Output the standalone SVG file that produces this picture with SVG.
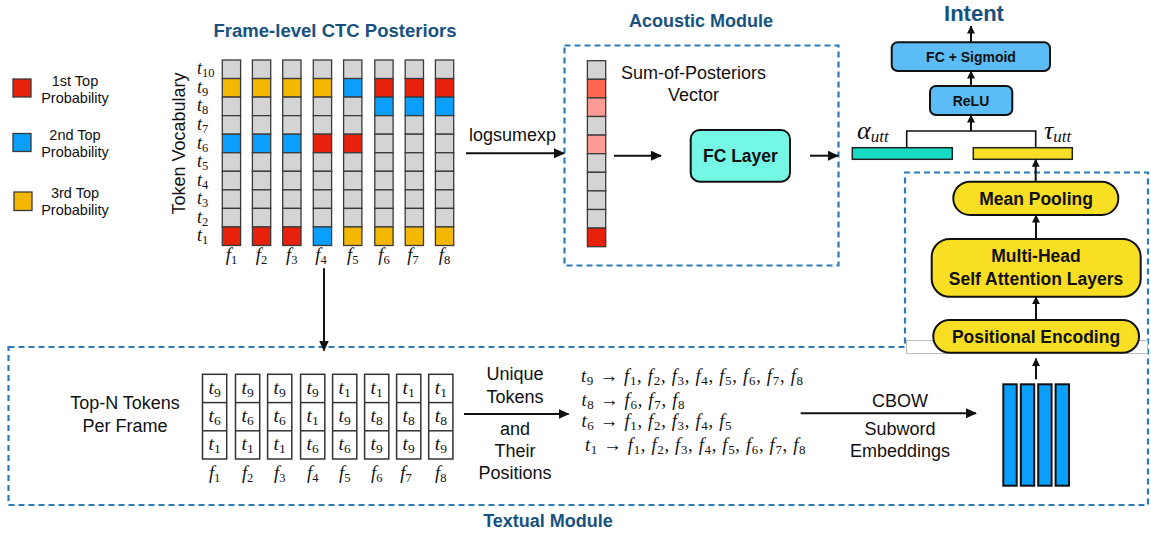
<svg xmlns="http://www.w3.org/2000/svg" width="1151" height="538" viewBox="0 0 1151 538">
<defs>
<style>
.sans{font-family:"Liberation Sans",Arial,sans-serif;fill:#111}
.t18{font-size:18px}
.leg{font-size:14.5px;text-anchor:middle}
.ttl{font-family:"Liberation Sans",Arial,sans-serif;font-weight:bold;font-size:18px;fill:#17527f;text-anchor:middle}
.bold{font-family:"Liberation Sans",Arial,sans-serif;font-weight:bold;fill:#111;text-anchor:middle}
.mid{text-anchor:middle}
.m{font-family:"Liberation Serif","Times New Roman",serif;font-style:italic;fill:#111}
.sub{font-style:normal}
.g{fill:#d4d4d4;stroke:#3a3a3a;stroke-width:1.3}
.R{fill:#e8210c;stroke:#3a3a3a;stroke-width:1.3}
.B{fill:#0a9ffb;stroke:#3a3a3a;stroke-width:1.3}
.Y{fill:#f4b800;stroke:#3a3a3a;stroke-width:1.3}
.S1{fill:#fe6650;stroke:#3a3a3a;stroke-width:1.3}
.S2{fill:#fd9c94;stroke:#3a3a3a;stroke-width:1.3}
.tok{fill:#fff;stroke:#333;stroke-width:1.5}
.dash{fill:none;stroke:#2b7bb9;stroke-width:2.2;stroke-dasharray:6 4}
.ln{fill:none;stroke:#111;stroke-width:2}
.lnt{fill:none;stroke:#111;stroke-width:1.6}
.node{stroke:#111;stroke-width:2}
</style>
<marker id="ah" markerUnits="userSpaceOnUse" markerWidth="11" markerHeight="10" refX="10" refY="5" orient="auto">
<path d="M0,0 L11,5 L0,10 z" fill="#111"/>
</marker>
<marker id="ahs" markerUnits="userSpaceOnUse" markerWidth="8" markerHeight="8" refX="7.5" refY="4" orient="auto">
<path d="M0,0 L8,4 L0,8 z" fill="#111"/>
</marker>
</defs>
<rect width="1151" height="538" fill="#fff"/>

<!-- Legend -->
<g id="legend">
<rect x="13" y="79" width="18" height="18" class="R" stroke-width="1.5"/>
<rect x="13" y="133.5" width="18" height="18" class="B"/>
<rect x="14" y="192" width="18" height="18.5" class="Y"/>
<text class="sans leg" x="75" y="86">1st Top</text>
<text class="sans leg" x="75" y="103">Probability</text>
<text class="sans leg" x="75" y="140">2nd Top</text>
<text class="sans leg" x="75" y="157">Probability</text>
<text class="sans leg" x="75" y="198">3rd Top</text>
<text class="sans leg" x="75" y="215">Probability</text>
</g>

<!-- CTC posteriors grid -->
<g id="ctc-grid">
<text class="ttl" x="335" y="36.5" textLength="243" lengthAdjust="spacingAndGlyphs">Frame-level CTC Posteriors</text>
<text class="sans t18 mid" transform="translate(185,143.5) rotate(-90)">Token Vocabulary</text>
<g class="m" font-size="18">
<text x="197" y="74.3">t<tspan class="sub" font-size="12.5" dy="3">10</tspan></text>
<text x="197" y="92.8">t<tspan class="sub" font-size="12.5" dy="3">9</tspan></text>
<text x="197" y="111.4">t<tspan class="sub" font-size="12.5" dy="3">8</tspan></text>
<text x="197" y="129.9">t<tspan class="sub" font-size="12.5" dy="3">7</tspan></text>
<text x="197" y="148.5">t<tspan class="sub" font-size="12.5" dy="3">6</tspan></text>
<text x="197" y="167">t<tspan class="sub" font-size="12.5" dy="3">5</tspan></text>
<text x="197" y="185.6">t<tspan class="sub" font-size="12.5" dy="3">4</tspan></text>
<text x="197" y="204.1">t<tspan class="sub" font-size="12.5" dy="3">3</tspan></text>
<text x="197" y="222.7">t<tspan class="sub" font-size="12.5" dy="3">2</tspan></text>
<text x="197" y="241.2">t<tspan class="sub" font-size="12.5" dy="3">1</tspan></text>
</g>
<g id="col-f1">
<rect x="222.3" y="60" width="18.3" height="18.55" class="g"/><rect x="222.3" y="78.55" width="18.3" height="18.55" class="Y"/><rect x="222.3" y="97.1" width="18.3" height="18.55" class="g"/><rect x="222.3" y="115.65" width="18.3" height="18.55" class="g"/><rect x="222.3" y="134.2" width="18.3" height="18.55" class="B"/><rect x="222.3" y="152.75" width="18.3" height="18.55" class="g"/><rect x="222.3" y="171.3" width="18.3" height="18.55" class="g"/><rect x="222.3" y="189.85" width="18.3" height="18.55" class="g"/><rect x="222.3" y="208.4" width="18.3" height="18.55" class="g"/><rect x="222.3" y="226.95" width="18.3" height="18.55" class="R"/>
</g>
<g id="col-f2">
<rect x="252.4" y="60" width="18.3" height="18.55" class="g"/><rect x="252.4" y="78.55" width="18.3" height="18.55" class="Y"/><rect x="252.4" y="97.1" width="18.3" height="18.55" class="g"/><rect x="252.4" y="115.65" width="18.3" height="18.55" class="g"/><rect x="252.4" y="134.2" width="18.3" height="18.55" class="B"/><rect x="252.4" y="152.75" width="18.3" height="18.55" class="g"/><rect x="252.4" y="171.3" width="18.3" height="18.55" class="g"/><rect x="252.4" y="189.85" width="18.3" height="18.55" class="g"/><rect x="252.4" y="208.4" width="18.3" height="18.55" class="g"/><rect x="252.4" y="226.95" width="18.3" height="18.55" class="R"/>
</g>
<g id="col-f3">
<rect x="282.7" y="60" width="18.3" height="18.55" class="g"/><rect x="282.7" y="78.55" width="18.3" height="18.55" class="Y"/><rect x="282.7" y="97.1" width="18.3" height="18.55" class="g"/><rect x="282.7" y="115.65" width="18.3" height="18.55" class="g"/><rect x="282.7" y="134.2" width="18.3" height="18.55" class="B"/><rect x="282.7" y="152.75" width="18.3" height="18.55" class="g"/><rect x="282.7" y="171.3" width="18.3" height="18.55" class="g"/><rect x="282.7" y="189.85" width="18.3" height="18.55" class="g"/><rect x="282.7" y="208.4" width="18.3" height="18.55" class="g"/><rect x="282.7" y="226.95" width="18.3" height="18.55" class="R"/>
</g>
<g id="col-f4">
<rect x="313.3" y="60" width="18.3" height="18.55" class="g"/><rect x="313.3" y="78.55" width="18.3" height="18.55" class="Y"/><rect x="313.3" y="97.1" width="18.3" height="18.55" class="g"/><rect x="313.3" y="115.65" width="18.3" height="18.55" class="g"/><rect x="313.3" y="134.2" width="18.3" height="18.55" class="R"/><rect x="313.3" y="152.75" width="18.3" height="18.55" class="g"/><rect x="313.3" y="171.3" width="18.3" height="18.55" class="g"/><rect x="313.3" y="189.85" width="18.3" height="18.55" class="g"/><rect x="313.3" y="208.4" width="18.3" height="18.55" class="g"/><rect x="313.3" y="226.95" width="18.3" height="18.55" class="B"/>
</g>
<g id="col-f5">
<rect x="343.6" y="60" width="18.3" height="18.55" class="g"/><rect x="343.6" y="78.55" width="18.3" height="18.55" class="B"/><rect x="343.6" y="97.1" width="18.3" height="18.55" class="g"/><rect x="343.6" y="115.65" width="18.3" height="18.55" class="g"/><rect x="343.6" y="134.2" width="18.3" height="18.55" class="R"/><rect x="343.6" y="152.75" width="18.3" height="18.55" class="g"/><rect x="343.6" y="171.3" width="18.3" height="18.55" class="g"/><rect x="343.6" y="189.85" width="18.3" height="18.55" class="g"/><rect x="343.6" y="208.4" width="18.3" height="18.55" class="g"/><rect x="343.6" y="226.95" width="18.3" height="18.55" class="Y"/>
</g>
<g id="col-f6">
<rect x="374.8" y="60" width="18.3" height="18.55" class="g"/><rect x="374.8" y="78.55" width="18.3" height="18.55" class="R"/><rect x="374.8" y="97.1" width="18.3" height="18.55" class="B"/><rect x="374.8" y="115.65" width="18.3" height="18.55" class="g"/><rect x="374.8" y="134.2" width="18.3" height="18.55" class="g"/><rect x="374.8" y="152.75" width="18.3" height="18.55" class="g"/><rect x="374.8" y="171.3" width="18.3" height="18.55" class="g"/><rect x="374.8" y="189.85" width="18.3" height="18.55" class="g"/><rect x="374.8" y="208.4" width="18.3" height="18.55" class="g"/><rect x="374.8" y="226.95" width="18.3" height="18.55" class="Y"/>
</g>
<g id="col-f7">
<rect x="405.2" y="60" width="18.3" height="18.55" class="g"/><rect x="405.2" y="78.55" width="18.3" height="18.55" class="R"/><rect x="405.2" y="97.1" width="18.3" height="18.55" class="B"/><rect x="405.2" y="115.65" width="18.3" height="18.55" class="g"/><rect x="405.2" y="134.2" width="18.3" height="18.55" class="g"/><rect x="405.2" y="152.75" width="18.3" height="18.55" class="g"/><rect x="405.2" y="171.3" width="18.3" height="18.55" class="g"/><rect x="405.2" y="189.85" width="18.3" height="18.55" class="g"/><rect x="405.2" y="208.4" width="18.3" height="18.55" class="g"/><rect x="405.2" y="226.95" width="18.3" height="18.55" class="Y"/>
</g>
<g id="col-f8">
<rect x="435.4" y="60" width="18.3" height="18.55" class="g"/><rect x="435.4" y="78.55" width="18.3" height="18.55" class="R"/><rect x="435.4" y="97.1" width="18.3" height="18.55" class="B"/><rect x="435.4" y="115.65" width="18.3" height="18.55" class="g"/><rect x="435.4" y="134.2" width="18.3" height="18.55" class="g"/><rect x="435.4" y="152.75" width="18.3" height="18.55" class="g"/><rect x="435.4" y="171.3" width="18.3" height="18.55" class="g"/><rect x="435.4" y="189.85" width="18.3" height="18.55" class="g"/><rect x="435.4" y="208.4" width="18.3" height="18.55" class="g"/><rect x="435.4" y="226.95" width="18.3" height="18.55" class="Y"/>
</g>
<g class="m" font-size="18.5" text-anchor="middle">
<text x="231.5" y="261">f<tspan class="sub" font-size="12.5" dy="3">1</tspan></text>
<text x="261.5" y="261">f<tspan class="sub" font-size="12.5" dy="3">2</tspan></text>
<text x="291.8" y="261">f<tspan class="sub" font-size="12.5" dy="3">3</tspan></text>
<text x="321" y="261">f<tspan class="sub" font-size="12.5" dy="3">4</tspan></text>
<text x="352.7" y="261">f<tspan class="sub" font-size="12.5" dy="3">5</tspan></text>
<text x="384" y="261">f<tspan class="sub" font-size="12.5" dy="3">6</tspan></text>
<text x="413" y="261">f<tspan class="sub" font-size="12.5" dy="3">7</tspan></text>
<text x="444.5" y="261">f<tspan class="sub" font-size="12.5" dy="3">8</tspan></text>
</g>
</g>

<!-- Acoustic module -->
<g id="acoustic-module">
<text class="ttl" x="701" y="26.5">Acoustic Module</text>
<rect x="564.5" y="45.5" width="274" height="220" class="dash"/>
</g>
<g id="sum-vector">
<rect x="587.4" y="60.7" width="18.3" height="18.6" class="g"/><rect x="587.4" y="79.3" width="18.3" height="18.6" class="S1"/><rect x="587.4" y="97.9" width="18.3" height="18.6" class="S2"/><rect x="587.4" y="116.5" width="18.3" height="18.6" class="g"/><rect x="587.4" y="135.1" width="18.3" height="18.6" class="S2"/><rect x="587.4" y="153.7" width="18.3" height="18.6" class="g"/><rect x="587.4" y="172.3" width="18.3" height="18.6" class="g"/><rect x="587.4" y="190.9" width="18.3" height="18.6" class="g"/><rect x="587.4" y="209.5" width="18.3" height="18.6" class="g"/><rect x="587.4" y="228.1" width="18.3" height="18.6" class="R"/>
<text class="sans t18 mid" x="693.5" y="78.5">Sum-of-Posteriors</text>
<text class="sans t18 mid" x="693.5" y="101">Vector</text>
</g>
<g id="fc-layer">
<rect x="690.7" y="130" width="99.3" height="51.7" rx="9" fill="#74f7e4" class="node"/>
<text class="bold" font-size="17.5" x="740.4" y="162">FC Layer</text>
</g>

<!-- Classifier -->
<g id="intent">
<text class="bold" font-size="22" x="974" y="20.5" style="fill:#17527f">Intent</text>
</g>
<g id="fc-sigmoid">
<rect x="891.7" y="42.3" width="158.3" height="28.7" rx="6" fill="#5cbcf6" class="node"/>
<text class="bold" font-size="14" x="971" y="62">FC + Sigmoid</text>
</g>
<g id="relu">
<rect x="930" y="86" width="82.3" height="29" rx="6" fill="#5cbcf6" class="node"/>
<text class="bold" font-size="14" x="971" y="105.5">ReLU</text>
</g>
<g id="alpha-utt">
<rect x="852.3" y="147.7" width="100" height="11.6" fill="#16dcc6" stroke="#222" stroke-width="1.5"/>
<text class="m" x="857" y="138.5" font-size="26">α<tspan font-size="17" dy="3">utt</tspan></text>
</g>
<g id="tau-utt">
<rect x="973.3" y="147.7" width="99" height="11.6" fill="#f7df27" stroke="#222" stroke-width="1.5"/>
<text class="m" x="1044" y="138.5" font-size="26">τ<tspan font-size="17" dy="3">utt</tspan></text>
</g>

<!-- Textual module -->
<g id="textual-module">
<path d="M8.5 347 H905 V172.5 H1148 V505 H8.5 Z" class="dash"/>
<rect x="906.5" y="340.5" width="241" height="13" fill="#fff" stroke="#bdbdbd" stroke-width="1"/>
<text class="ttl" x="548" y="526.5">Textual Module</text>
</g>
<g id="mean-pooling">
<rect x="953.3" y="181.7" width="165" height="33.3" rx="16.6" fill="#f9df23" class="node"/>
<text class="bold" font-size="17.5" x="1036" y="205">Mean Pooling</text>
</g>
<g id="self-attention">
<rect x="931.7" y="239" width="209" height="57.7" rx="18" fill="#f9df23" class="node"/>
<text class="bold" font-size="17.5" x="1036" y="262">Multi-Head</text>
<text class="bold" font-size="17.5" x="1036" y="284.5">Self Attention Layers</text>
</g>
<g id="positional-encoding">
<rect x="933.3" y="320" width="205.7" height="32.7" rx="16.3" fill="#f9df23" class="node"/>
<text class="bold" font-size="17.5" x="1036" y="343">Positional Encoding</text>
</g>
<g id="embeddings">
<rect x="1003.3" y="384.3" width="13.4" height="101.4" fill="#0a9ffb" class="node"/>
<rect x="1020.8" y="384.3" width="13.4" height="101.4" fill="#0a9ffb" class="node"/>
<rect x="1038.2" y="384.3" width="13.4" height="101.4" fill="#0a9ffb" class="node"/>
<rect x="1055.6" y="384.3" width="13.4" height="101.4" fill="#0a9ffb" class="node"/>
</g>
<g id="top-n-label">
<text class="sans t18 mid" x="125" y="409">Top-N Tokens</text>
<text class="sans t18 mid" x="125" y="432">Per Frame</text>
</g>
<g id="token-boxes">
<g class="tok">
<rect x="202.5" y="374.3" width="24.2" height="84.7"/><line x1="202.5" y1="402.6" x2="226.7" y2="402.6"/><line x1="202.5" y1="430.8" x2="226.7" y2="430.8"/>
<rect x="235.5" y="374.3" width="24.2" height="84.7"/><line x1="235.5" y1="402.6" x2="259.7" y2="402.6"/><line x1="235.5" y1="430.8" x2="259.7" y2="430.8"/>
<rect x="267.6" y="374.3" width="24.2" height="84.7"/><line x1="267.6" y1="402.6" x2="291.8" y2="402.6"/><line x1="267.6" y1="430.8" x2="291.8" y2="430.8"/>
<rect x="300.6" y="374.3" width="24.2" height="84.7"/><line x1="300.6" y1="402.6" x2="324.8" y2="402.6"/><line x1="300.6" y1="430.8" x2="324.8" y2="430.8"/>
<rect x="332.6" y="374.3" width="24.2" height="84.7"/><line x1="332.6" y1="402.6" x2="356.8" y2="402.6"/><line x1="332.6" y1="430.8" x2="356.8" y2="430.8"/>
<rect x="364.6" y="374.3" width="24.2" height="84.7"/><line x1="364.6" y1="402.6" x2="388.8" y2="402.6"/><line x1="364.6" y1="430.8" x2="388.8" y2="430.8"/>
<rect x="396.6" y="374.3" width="24.2" height="84.7"/><line x1="396.6" y1="402.6" x2="420.8" y2="402.6"/><line x1="396.6" y1="430.8" x2="420.8" y2="430.8"/>
<rect x="428.7" y="374.3" width="24.2" height="84.7"/><line x1="428.7" y1="402.6" x2="452.9" y2="402.6"/><line x1="428.7" y1="430.8" x2="452.9" y2="430.8"/>
</g>
<g class="m" font-size="19.5" text-anchor="middle">
<text x="214.6" y="393.5">t<tspan class="sub" font-size="13.5" dy="3">9</tspan></text><text x="214.6" y="421.8">t<tspan class="sub" font-size="13.5" dy="3">6</tspan></text><text x="214.6" y="450">t<tspan class="sub" font-size="13.5" dy="3">1</tspan></text>
<text x="247.6" y="393.5">t<tspan class="sub" font-size="13.5" dy="3">9</tspan></text><text x="247.6" y="421.8">t<tspan class="sub" font-size="13.5" dy="3">6</tspan></text><text x="247.6" y="450">t<tspan class="sub" font-size="13.5" dy="3">1</tspan></text>
<text x="279.7" y="393.5">t<tspan class="sub" font-size="13.5" dy="3">9</tspan></text><text x="279.7" y="421.8">t<tspan class="sub" font-size="13.5" dy="3">6</tspan></text><text x="279.7" y="450">t<tspan class="sub" font-size="13.5" dy="3">1</tspan></text>
<text x="312.7" y="393.5">t<tspan class="sub" font-size="13.5" dy="3">9</tspan></text><text x="312.7" y="421.8">t<tspan class="sub" font-size="13.5" dy="3">1</tspan></text><text x="312.7" y="450">t<tspan class="sub" font-size="13.5" dy="3">6</tspan></text>
<text x="344.7" y="393.5">t<tspan class="sub" font-size="13.5" dy="3">1</tspan></text><text x="344.7" y="421.8">t<tspan class="sub" font-size="13.5" dy="3">9</tspan></text><text x="344.7" y="450">t<tspan class="sub" font-size="13.5" dy="3">6</tspan></text>
<text x="376.7" y="393.5">t<tspan class="sub" font-size="13.5" dy="3">1</tspan></text><text x="376.7" y="421.8">t<tspan class="sub" font-size="13.5" dy="3">8</tspan></text><text x="376.7" y="450">t<tspan class="sub" font-size="13.5" dy="3">9</tspan></text>
<text x="408.7" y="393.5">t<tspan class="sub" font-size="13.5" dy="3">1</tspan></text><text x="408.7" y="421.8">t<tspan class="sub" font-size="13.5" dy="3">8</tspan></text><text x="408.7" y="450">t<tspan class="sub" font-size="13.5" dy="3">9</tspan></text>
<text x="440.8" y="393.5">t<tspan class="sub" font-size="13.5" dy="3">1</tspan></text><text x="440.8" y="421.8">t<tspan class="sub" font-size="13.5" dy="3">8</tspan></text><text x="440.8" y="450">t<tspan class="sub" font-size="13.5" dy="3">9</tspan></text>
</g>
<g class="m" font-size="18.5" text-anchor="middle">
<text x="214.6" y="478.5">f<tspan class="sub" font-size="12.5" dy="3">1</tspan></text>
<text x="247.6" y="478.5">f<tspan class="sub" font-size="12.5" dy="3">2</tspan></text>
<text x="279.7" y="478.5">f<tspan class="sub" font-size="12.5" dy="3">3</tspan></text>
<text x="312.7" y="478.5">f<tspan class="sub" font-size="12.5" dy="3">4</tspan></text>
<text x="344.7" y="478.5">f<tspan class="sub" font-size="12.5" dy="3">5</tspan></text>
<text x="376.7" y="478.5">f<tspan class="sub" font-size="12.5" dy="3">6</tspan></text>
<text x="406" y="478.5">f<tspan class="sub" font-size="12.5" dy="3">7</tspan></text>
<text x="440.8" y="478.5">f<tspan class="sub" font-size="12.5" dy="3">8</tspan></text>
</g>
</g>
<g id="unique-label">
<text class="sans t18 mid" x="515" y="380">Unique</text>
<text class="sans t18 mid" x="515" y="402.5">Tokens</text>
<text class="sans t18 mid" x="515" y="435">and</text>
<text class="sans t18 mid" x="515" y="457.3">Their</text>
<text class="sans t18 mid" x="515" y="479.3">Positions</text>
</g>
<g id="token-positions" class="m" font-size="18.5">
<text x="581" y="382" textLength="222" lengthAdjust="spacing">t<tspan class="sub" font-size="13" dy="3">9</tspan><tspan class="sub" dy="-3"> → </tspan>f<tspan class="sub" font-size="13" dy="3">1</tspan><tspan class="sub" dy="-3">, </tspan>f<tspan class="sub" font-size="13" dy="3">2</tspan><tspan class="sub" dy="-3">, </tspan>f<tspan class="sub" font-size="13" dy="3">3</tspan><tspan class="sub" dy="-3">, </tspan>f<tspan class="sub" font-size="13" dy="3">4</tspan><tspan class="sub" dy="-3">, </tspan>f<tspan class="sub" font-size="13" dy="3">5</tspan><tspan class="sub" dy="-3">, </tspan>f<tspan class="sub" font-size="13" dy="3">6</tspan><tspan class="sub" dy="-3">, </tspan>f<tspan class="sub" font-size="13" dy="3">7</tspan><tspan class="sub" dy="-3">, </tspan>f<tspan class="sub" font-size="13" dy="3">8</tspan></text>
<text x="581.5" y="405.5" textLength="103" lengthAdjust="spacing">t<tspan class="sub" font-size="13" dy="3">8</tspan><tspan class="sub" dy="-3"> → </tspan>f<tspan class="sub" font-size="13" dy="3">6</tspan><tspan class="sub" dy="-3">, </tspan>f<tspan class="sub" font-size="13" dy="3">7</tspan><tspan class="sub" dy="-3">, </tspan>f<tspan class="sub" font-size="13" dy="3">8</tspan></text>
<text x="581.5" y="427" textLength="150" lengthAdjust="spacing">t<tspan class="sub" font-size="13" dy="3">6</tspan><tspan class="sub" dy="-3"> → </tspan>f<tspan class="sub" font-size="13" dy="3">1</tspan><tspan class="sub" dy="-3">, </tspan>f<tspan class="sub" font-size="13" dy="3">2</tspan><tspan class="sub" dy="-3">, </tspan>f<tspan class="sub" font-size="13" dy="3">3</tspan><tspan class="sub" dy="-3">, </tspan>f<tspan class="sub" font-size="13" dy="3">4</tspan><tspan class="sub" dy="-3">, </tspan>f<tspan class="sub" font-size="13" dy="3">5</tspan></text>
<text x="585" y="450.5" textLength="220.5" lengthAdjust="spacing">t<tspan class="sub" font-size="13" dy="3">1</tspan><tspan class="sub" dy="-3"> → </tspan>f<tspan class="sub" font-size="13" dy="3">1</tspan><tspan class="sub" dy="-3">, </tspan>f<tspan class="sub" font-size="13" dy="3">2</tspan><tspan class="sub" dy="-3">, </tspan>f<tspan class="sub" font-size="13" dy="3">3</tspan><tspan class="sub" dy="-3">, </tspan>f<tspan class="sub" font-size="13" dy="3">4</tspan><tspan class="sub" dy="-3">, </tspan>f<tspan class="sub" font-size="13" dy="3">5</tspan><tspan class="sub" dy="-3">, </tspan>f<tspan class="sub" font-size="13" dy="3">6</tspan><tspan class="sub" dy="-3">, </tspan>f<tspan class="sub" font-size="13" dy="3">7</tspan><tspan class="sub" dy="-3">, </tspan>f<tspan class="sub" font-size="13" dy="3">8</tspan></text>
</g>
<g id="cbow-label">
<text class="sans t18 mid" x="900" y="406.5">CBOW</text>
<text class="sans t18 mid" x="900" y="435">Subword</text>
<text class="sans t18 mid" x="900" y="456.7">Embeddings</text>
</g>

<!-- Connectors -->
<g id="connectors">
<line x1="466" y1="153.3" x2="564" y2="153.3" class="ln" marker-end="url(#ah)"/>
<text class="sans t18 mid" x="512.5" y="141">logsumexp</text>
<line x1="614" y1="155.7" x2="661" y2="155.7" class="ln" marker-end="url(#ah)"/>
<line x1="810" y1="155.7" x2="838" y2="155.7" class="ln" marker-end="url(#ah)"/>
<line x1="324" y1="268.3" x2="324" y2="350.5" class="ln" marker-end="url(#ah)"/>
<line x1="464" y1="414" x2="568.5" y2="414" class="ln" marker-end="url(#ah)"/>
<line x1="800.7" y1="413.3" x2="976" y2="413.3" class="ln" marker-end="url(#ah)"/>
<line x1="1036" y1="379.3" x2="1036" y2="358.5" class="ln" marker-end="url(#ahs)"/>
<line x1="1036" y1="320" x2="1036" y2="296.7" class="ln" marker-end="url(#ahs)"/>
<line x1="1036" y1="239" x2="1036" y2="215" class="ln" marker-end="url(#ahs)"/>
<line x1="1035.7" y1="181.7" x2="1035.7" y2="159.3" class="ln" marker-end="url(#ahs)"/>
<path d="M906.7 147.7 V131 H1035.7 V147.7" class="lnt"/>
<line x1="971" y1="131" x2="971" y2="115" class="ln" marker-end="url(#ahs)"/>
<line x1="971" y1="86" x2="971" y2="71" class="ln" marker-end="url(#ahs)"/>
<line x1="971" y1="42.3" x2="971" y2="26" class="ln" marker-end="url(#ahs)"/>
</g>
</svg>
